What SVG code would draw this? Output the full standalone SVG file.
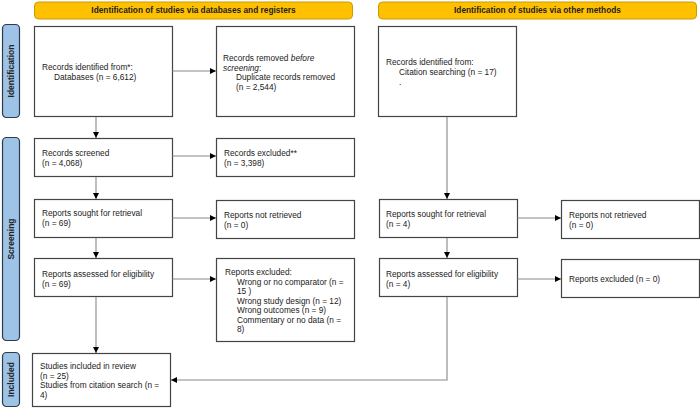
<svg xmlns="http://www.w3.org/2000/svg" width="700" height="408" viewBox="0 0 700 408">
<style>
text{font-family:"Liberation Sans",Arial,sans-serif;font-size:8.3px;fill:#222}
.hdr rect{fill:#FFC000;stroke:#C99A06;stroke-width:1}
.hdr text{font-weight:bold;font-size:8.3px;text-anchor:middle}
.side rect{fill:#9DC3E6;stroke:#2E3B4E;stroke-width:1.2}
.side text{font-weight:bold;font-size:8.5px;text-anchor:middle}
.box rect{fill:#fff;stroke:#444;stroke-width:1.2}
.con path{fill:none;stroke:#888;stroke-width:1.1}
</style>
<defs>
<marker id="ah" markerWidth="6" markerHeight="6" refX="6" refY="3" orient="auto" markerUnits="userSpaceOnUse">
<path d="M0,0 L6,3 L0,6 z" fill="#000"/>
</marker>
</defs>
<rect width="700" height="408" fill="#fff"/>
<g id="hdr1" class="hdr"><rect x="34.5" y="2" width="318" height="17" rx="4"/><text x="193.5" y="13">Identification of studies via databases and registers</text></g>
<g id="hdr2" class="hdr"><rect x="378.5" y="2" width="318" height="17" rx="4"/><text x="537.5" y="13">Identification of studies via other methods</text></g>
<g id="side1" class="side"><rect x="2.5" y="24.5" width="17" height="93" rx="4"/><text transform="translate(14,71) rotate(-90)">Identification</text></g>
<g id="side2" class="side"><rect x="2.5" y="137.5" width="17" height="203" rx="4"/><text transform="translate(14,239) rotate(-90)">Screening</text></g>
<g id="side3" class="side"><rect x="2.5" y="352.5" width="17" height="54" rx="4"/><text transform="translate(14,379.5) rotate(-90)">Included</text></g>
<g id="n1" class="box"><rect x="34.5" y="26.5" width="138" height="90"/><text x="42" y="70">Records identified from*:</text><text x="54" y="80">Databases (n = 6,612)</text></g>
<g id="n2" class="box"><rect x="216.5" y="26.5" width="138" height="90"/><text x="223" y="61">Records removed <tspan font-style="italic">before</tspan></text><text x="223" y="70.6"><tspan font-style="italic">screening</tspan>:</text><text x="236" y="80.2">Duplicate records removed</text><text x="236" y="89.8">(n = 2,544)</text></g>
<g id="n3" class="box"><rect x="378.5" y="26.5" width="138" height="90"/><text x="386" y="65">Records identified from:</text><text x="399" y="75">Citation searching (n = 17)</text><text x="399" y="85">.</text></g>
<g id="n4" class="box"><rect x="34.5" y="138.5" width="138" height="38"/><text x="42" y="156">Records screened</text><text x="42" y="166">(n = 4,068)</text></g>
<g id="n5" class="box"><rect x="216.5" y="138.5" width="138" height="38"/><text x="224" y="156">Records excluded**</text><text x="224" y="166">(n = 3,398)</text></g>
<g id="n6" class="box"><rect x="34.5" y="199.5" width="138" height="38"/><text x="42" y="216">Reports sought for retrieval</text><text x="42" y="226">(n = 69)</text></g>
<g id="n7" class="box"><rect x="216.5" y="200.5" width="138" height="38"/><text x="224" y="218">Reports not retrieved</text><text x="224" y="228">(n = 0)</text></g>
<g id="n8" class="box"><rect x="379.5" y="199.5" width="138" height="38"/><text x="386" y="217">Reports sought for retrieval</text><text x="386" y="227">(n = 4)</text></g>
<g id="n9" class="box"><rect x="561.5" y="200.5" width="138" height="38"/><text x="569" y="218">Reports not retrieved</text><text x="569" y="228">(n = 0)</text></g>
<g id="n10" class="box"><rect x="34.5" y="258.5" width="138" height="38"/><text x="42" y="277">Reports assessed for eligibility</text><text x="42" y="287">(n = 69)</text></g>
<g id="n11" class="box"><rect x="216.5" y="258.5" width="138" height="83"/><text x="225" y="275">Reports excluded:</text><text x="237" y="284.5">Wrong or no comparator (n =</text><text x="237" y="294">15 )</text><text x="237" y="303.5">Wrong study design (n = 12)</text><text x="237" y="313">Wrong outcomes (n = 9)</text><text x="237" y="322.5">Commentary or no data (n =</text><text x="237" y="332">8)</text></g>
<g id="n12" class="box"><rect x="379.5" y="258.5" width="138" height="38"/><text x="386" y="277">Reports assessed for eligibility</text><text x="386" y="287">(n = 4)</text></g>
<g id="n13" class="box"><rect x="561.5" y="259.5" width="138" height="38"/><text x="569" y="282">Reports excluded (n = 0)</text></g>
<g id="n14" class="box"><rect x="32.5" y="353.5" width="138" height="53"/><text x="40" y="369">Studies included in review</text><text x="40" y="378.5">(n = 25)</text><text x="40" y="388">Studies from citation search (n =</text><text x="40" y="397.5">4)</text></g>
<g id="connectors" class="con">
<path d="M172.5,71 H216" marker-end="url(#ah)"/>
<path d="M96,117 V138" marker-end="url(#ah)"/>
<path d="M172.5,156 H216" marker-end="url(#ah)"/>
<path d="M96,177 V199" marker-end="url(#ah)"/>
<path d="M172.5,218 H216" marker-end="url(#ah)"/>
<path d="M96,238 V258" marker-end="url(#ah)"/>
<path d="M172.5,279 H216" marker-end="url(#ah)"/>
<path d="M96,297 V353" marker-end="url(#ah)"/>
<path d="M447,117 V199" marker-end="url(#ah)"/>
<path d="M517.5,218 H561" marker-end="url(#ah)"/>
<path d="M447,238 V258" marker-end="url(#ah)"/>
<path d="M517.5,279 H561" marker-end="url(#ah)"/>
<path d="M447,297 V380 H171" marker-end="url(#ah)"/>
</g>
</svg>
